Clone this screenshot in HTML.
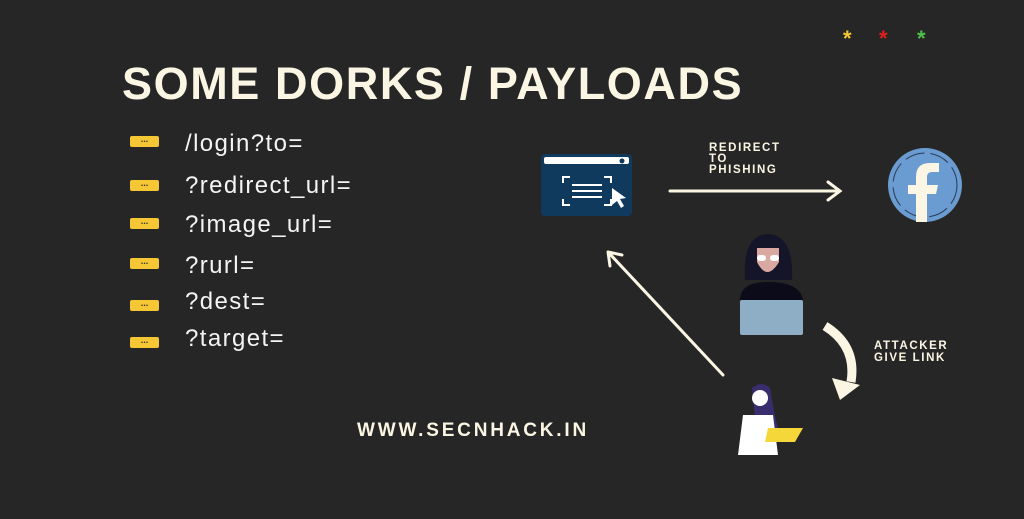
<!DOCTYPE html>
<html><head><meta charset="utf-8"><style>
body{margin:0;width:1024px;height:519px;background:#262626;overflow:hidden;position:relative;font-family:"Liberation Sans",sans-serif}
.t{position:absolute;color:#fbf6e3;white-space:nowrap}
.ic{position:absolute;left:130px;width:29px;height:11px;background:#f6c735;border-radius:2px;color:#333;font-size:9px;line-height:7px;text-align:center;font-weight:bold}
.it{position:absolute;left:185px;color:#f4f4f4;font-size:24px;letter-spacing:1.4px;white-space:nowrap}
</style></head><body>
<div class="t" style="left:122px;top:58px;font-size:45px;font-weight:bold;letter-spacing:1.6px">SOME DORKS / PAYLOADS</div>
<div class="t" style="left:843px;top:26px;color:#f6c735;font-size:22px;font-weight:bold">*</div>
<div class="t" style="left:879px;top:26px;color:#e0201c;font-size:22px;font-weight:bold">*</div>
<div class="t" style="left:917px;top:26px;color:#4fc24a;font-size:22px;font-weight:bold">*</div>

<div class="ic" style="top:136px">...</div><div class="it" style="top:130px">/login?to=</div>
<div class="ic" style="top:180px">...</div><div class="it" style="top:172px">?redirect_url=</div>
<div class="ic" style="top:218px">...</div><div class="it" style="top:211px">?image_url=</div>
<div class="ic" style="top:258px">...</div><div class="it" style="top:252px">?rurl=</div>
<div class="ic" style="top:300px">...</div><div class="it" style="top:288px">?dest=</div>
<div class="ic" style="top:337px">...</div><div class="it" style="top:325px">?target=</div>

<div class="t" style="left:357px;top:420px;font-size:19px;font-weight:bold;letter-spacing:2.8px">WWW.SECNHACK.IN</div>
<div class="t" style="left:709px;top:143px;font-size:11.5px;font-weight:bold;line-height:11px;letter-spacing:1.6px">REDIRECT<br>TO<br>PHISHING</div>
<div class="t" style="left:874px;top:340px;font-size:11.5px;font-weight:bold;line-height:12px;letter-spacing:1.6px">ATTACKER<br>GIVE LINK</div>

<svg width="1024" height="519" style="position:absolute;left:0;top:0">
<rect x="541" y="154" width="91" height="62" rx="4" fill="#0f3a5e"/>
<rect x="544" y="157" width="85" height="7" rx="2" fill="#fff"/>
<circle cx="622" cy="161" r="2.5" fill="#0f3a5e"/>
<g stroke="#fff" stroke-width="2" fill="none">
<path d="M570 177h-7v6M604 177h7v6M563 199v6h7M611 199v6h-7"/>
<path d="M572 185h30M572 191h30M572 197h30"/>
</g>
<path d="M612 188l14 10-6 1 4 7-3 2-4-7-5 4z" fill="#fff"/>
<g stroke="#fbf6e3" stroke-width="3" fill="none" stroke-linecap="round">
<path d="M670 191h170M828 182l12 9-12 9"/>
<path d="M723 375L608 252M608 252l2 14M608 252l14 3"/>
</g>
<path d="M825 326q32 20 26 56" stroke="#fbf6e3" stroke-width="9" fill="none"/>
<path d="M832 378l8 22 20-15z" fill="#fbf6e3"/>
<circle cx="925" cy="185" r="37" fill="#6a9bd1"/>
<circle cx="925" cy="185" r="32" fill="none" stroke="#2a3a55" stroke-width="1" stroke-dasharray="20 6"/>
<path d="M916 222v-28h-8v-9h8v-8q0-14 14-14h9v9h-7q-5 0-5 5v8h11l-2 9h-9v28z" fill="#fbf6e3"/>
<path d="M745 280q-3-45 23-46q26 1 24 46z" fill="#15152a"/>
<path d="M757 262q10 20 22 0v-14h-22z" fill="#d9a8a0"/>
<rect x="757" y="255" width="9" height="6" rx="3" fill="#fff"/><rect x="770" y="255" width="9" height="6" rx="3" fill="#fff"/>
<path d="M740 300q0-18 28-18q32 0 35 18z" fill="#0b0b1a"/>
<rect x="740" y="300" width="63" height="35" rx="2" fill="#8eaec6"/>
<path d="M752 388q10-8 18 0q4 25 8 40h-22z" fill="#3a2d6e"/>
<circle cx="760" cy="398" r="8" fill="#fff"/>
<path d="M743 415h30l5 40h-40z" fill="#fff"/>
<path d="M768 428h35l-8 14h-30z" fill="#f6d73a"/>
</svg>
</body></html>
